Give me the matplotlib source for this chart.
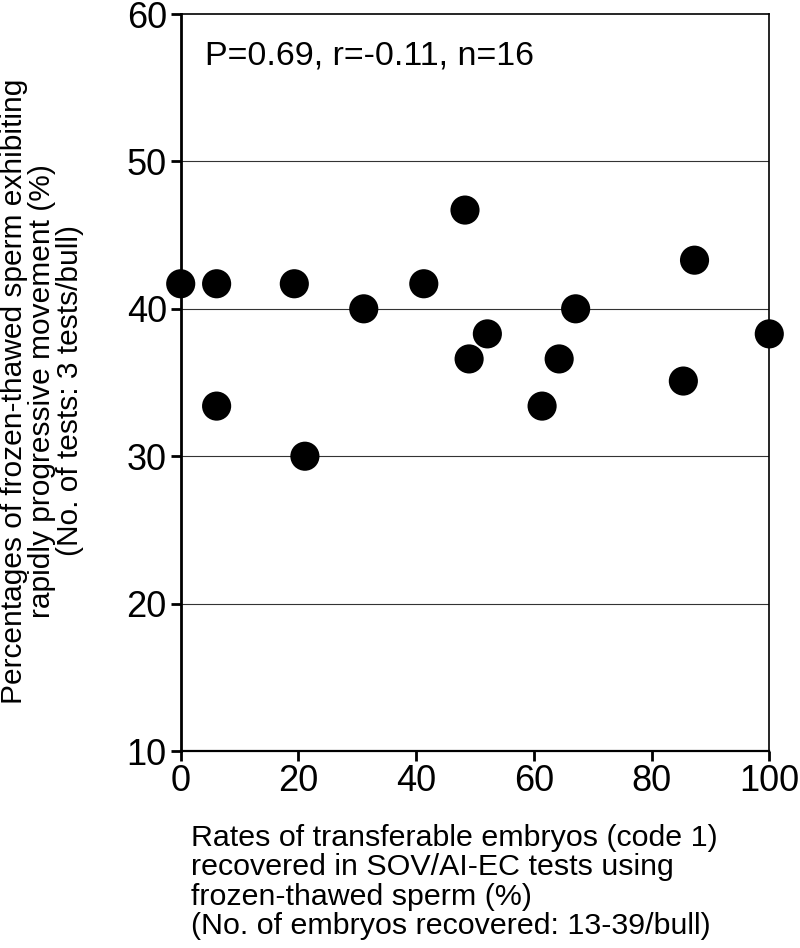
import matplotlib
matplotlib.use("Agg")
import matplotlib.pyplot as plt

plt.rcParams["font.family"] = ["Liberation Sans", "DejaVu Sans"]

# tasa de embriones transferibles (%) vs. espermatozoides con movimiento rapido (%)
embriones = [0, 6.1, 19.3, 41.3, 31.1, 48.3, 49.0, 52.1, 6.1, 21.1,
             87.3, 67.1, 64.3, 61.4, 85.4, 100]
movilidad = [41.7, 41.7, 41.7, 41.7, 40.0, 46.7, 36.6, 38.3, 33.4, 30.0,
             43.3, 40.0, 36.6, 33.4, 35.1, 38.3]

x_ticks = [0, 20, 40, 60, 80, 100]
y_ticks = [10, 20, 30, 40, 50, 60]
grid_y = [20, 30, 40, 50]

texto_stats = "P=0.69, r=-0.11, n=16"
etiqueta_x = ("Rates of transferable embryos (code 1)\n"
              "recovered in SOV/AI-EC tests using\n"
              "frozen-thawed sperm (%)\n"
              "(No. of embryos recovered: 13-39/bull)")
etiqueta_y = ("Percentages of frozen-thawed sperm exhibiting\n"
              "rapidly progressive movement (%)\n"
              "(No. of tests: 3 tests/bull)")


def main():
    fig = plt.figure(figsize=(8, 9.48), dpi=100)
    ax = fig.add_axes([0.2259, 0.2078, 0.7357, 0.7774])

    for g in grid_y:
        ax.axhline(g, color="#333333", linewidth=0.8, zorder=1)

    ax.scatter(embriones, movilidad, s=440, color="black", edgecolors="none",
               zorder=5, clip_on=False)

    ax.set_xlim(0, 100)
    ax.set_ylim(10, 60)
    ax.set_xticks(x_ticks)
    ax.set_yticks(y_ticks)
    ax.tick_params(axis="both", direction="out", length=7, width=2,
                   labelsize=26, color="black")
    ax.tick_params(axis="y", pad=3)
    ax.tick_params(axis="x", pad=2)

    ax.spines["left"].set_linewidth(2)
    ax.spines["bottom"].set_linewidth(1.6)
    ax.spines["top"].set_linewidth(1.2)
    ax.spines["right"].set_linewidth(1.2)

    ax.text(0.041, 0.931, texto_stats, transform=ax.transAxes, fontsize=24.5,
            ha="left", va="baseline")

    fig.text(191 / 800, 1 - 824 / 948, etiqueta_x, fontsize=21.9, ha="left",
             va="top", linespacing=1.06)
    fig.text(42 / 800, 1 - 391 / 948, etiqueta_y, fontsize=21.5, rotation=90,
             ha="center", va="center", multialignment="center",
             linespacing=1.0)

    fig.savefig("out.png", dpi=100)


if __name__ == "__main__":
    main()
